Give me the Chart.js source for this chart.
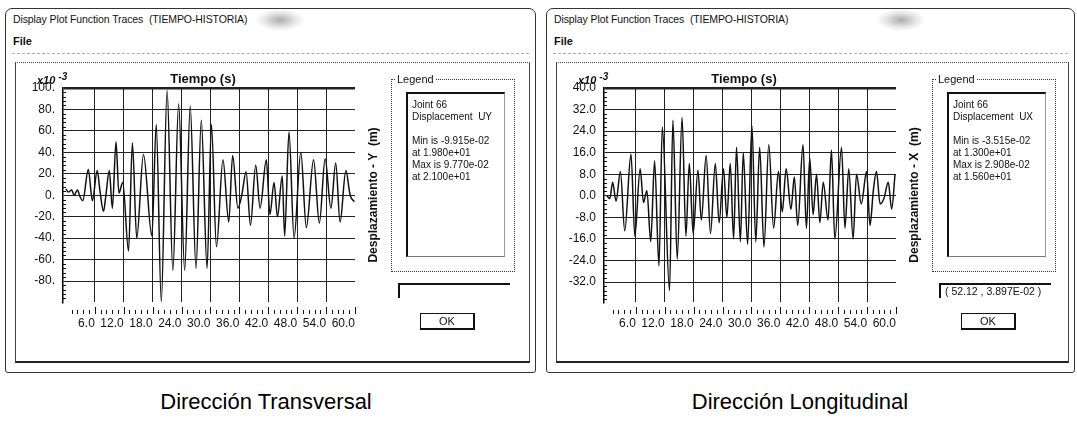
<!DOCTYPE html>
<html>
<head>
<meta charset="utf-8">
<title>Display Plot Function Traces</title>
<script src="https://cdn.jsdelivr.net/npm/chart.js@4.4.1/dist/chart.umd.min.js"></script>
<style>
    body {
        margin: 0;
        width: 1077px;
        height: 423px;
        background: #fff;
        position: relative;
        overflow: hidden;
        font-family: 'Liberation Sans', Arial, sans-serif;
        color: #111;
    }
    .win {
        position: absolute;
        top: 8px;
        height: 365px;
        border: 1px solid #333;
        border-radius: 7px 7px 3px 3px;
        box-sizing: border-box;
    }
    .win .cap   { position: absolute; left: 7px; top: 4px; font-size: 10.5px; letter-spacing: -0.1px; white-space: nowrap; }
    .win .smudge {
        position: absolute; top: 0; width: 48px; height: 22px;
        background: radial-gradient(ellipse at center, rgba(90,90,90,0.5) 0%, rgba(140,140,140,0.22) 45%, rgba(255,255,255,0) 72%);
    }
    .win .menu  { position: absolute; left: 7px; top: 26px; font-size: 11px; font-weight: bold; }
    .win .menubar { position: absolute; left: 6px; right: 6px; top: 44px; border-top: 1px dashed #aaa; }
    .win .panel {
        position: absolute; left: 9px; top: 53px; width: 515px; height: 301px;
        box-sizing: border-box;
        border: 1px solid #444; border-top: 1px dotted #555; border-bottom: 2px solid #222;
    }
    .win canvas { position: absolute; left: 9px; top: 56px; }
    .win .mult  { position: absolute; left: 31px; top: 62px; font-size: 11px; font-weight: bold; font-style: italic; white-space: nowrap; }
    .win .mult sup { font-size: 10px; margin-left: 3px; vertical-align: 4px; }
    .win .xtitle {
        position: absolute; left: 197px; top: 62px; transform: translateX(-50%);
        font-size: 13px; font-weight: bold; white-space: nowrap;
    }
    .win .ytitle {
        position: absolute; left: 367px; top: 186px;
        transform: translate(-50%, -50%) rotate(-90deg);
        font-size: 12px; font-weight: bold; white-space: nowrap;
    }
    .win .legend {
        position: absolute; left: 385px; top: 70px; width: 124px; height: 193px;
        box-sizing: border-box; border: 1px dotted #333;
    }
    .win .legend-label {
        position: absolute; left: 389px; top: 63px; padding: 0 2px;
        background: #fff; font-size: 11px; line-height: 14px;
    }
    .win .legend-body {
        position: absolute; left: 400px; top: 83px; width: 99px; height: 165px;
        box-sizing: border-box;
        border-top: 2px solid #111; border-left: 2px solid #111;
        border-right: 1px solid #999; border-bottom: 1px solid #777;
    }
    .win .legend-text {
        position: absolute; left: 406px; top: 90px;
        font-size: 10px; line-height: 12px; white-space: pre;
    }
    .win .readout {
        position: absolute; left: 392px; top: 274px; width: 112px; height: 15px;
        box-sizing: border-box; border-top: 2px solid #111; border-left: 2px solid #111;
        font-size: 10.5px; line-height: 13px; padding-left: 4px; white-space: nowrap;
    }
    .win .ok {
        position: absolute; left: 414px; top: 304px; width: 55px; height: 17px;
        box-sizing: border-box; border: 1px solid #111; border-right-width: 2px; border-bottom-width: 2px;
        font-size: 11px; line-height: 15px; text-align: center;
    }
    .caption {
        position: absolute; top: 389px; transform: translateX(-50%);
        font-size: 22px; white-space: nowrap; color: #000;
    }
</style>
</head>
<body>

<div class="win" style="left:5px;width:531px">
    <div class="cap">Display Plot Function Traces&nbsp; (TIEMPO-HISTORIA)</div>
    <div class="smudge" style="left:250px"></div>
    <div class="menu">File</div>
    <div class="menubar"></div>
    <div class="panel"></div>
    <canvas id="chartUY" width="355" height="270"></canvas>
    <div class="mult">x10<sup>-3</sup></div>
    <div class="xtitle">Tiempo (s)</div>
    <div class="ytitle">Desplazamiento - Y&nbsp; (m)</div>
    <div class="legend"></div>
    <div class="legend-label">Legend</div>
    <div class="legend-body"></div>
    <div class="legend-text" id="legendUY"></div>
    <div class="readout"></div>
    <div class="ok">OK</div>
</div>

<div class="win" style="left:546px;width:529px">
    <div class="cap">Display Plot Function Traces&nbsp; (TIEMPO-HISTORIA)</div>
    <div class="smudge" style="left:330px"></div>
    <div class="menu">File</div>
    <div class="menubar"></div>
    <div class="panel" style="width:513px"></div>
    <canvas id="chartUX" width="355" height="270"></canvas>
    <div class="mult">x10<sup>-3</sup></div>
    <div class="xtitle">Tiempo (s)</div>
    <div class="ytitle">Desplazamiento - X&nbsp; (m)</div>
    <div class="legend"></div>
    <div class="legend-label">Legend</div>
    <div class="legend-body"></div>
    <div class="legend-text" id="legendUX"></div>
    <div class="readout">( 52.12 , 3.897E-02 )</div>
    <div class="ok">OK</div>
</div>

<div class="caption" style="left:266px">Dirección Transversal</div>
<div class="caption" style="left:800px">Dirección Longitudinal</div>

<script>
// ---- time-history data, displacement in x10^-3 m ----

// Joint 66, UY (transverse)
const TIME_UY = [0, 0.5, 1.2, 1.7, 2.4, 2.9, 3.5, 4.65, 5.5, 6.5, 7.1, 7.8, 8.3, 9.0, 9.65,
    10.4, 11.0, 11.8, 13.0, 13.8, 14.7, 16.1, 17.85, 18.75, 19.8, 21.0, 22.2, 23.4, 24.65,
    25.8, 27.0, 28.1, 29.3, 30.2, 31.25, 32.6, 33.8, 34.6, 35.7, 36.5, 37.4, 38.3, 39.4,
    40.3, 41.6, 42.35, 43.2, 43.9, 44.9, 45.4, 46.3, 47.35, 48.75, 49.9, 51.4, 52.6, 53.8,
    55.0, 56.0, 56.9, 58.1, 59.0, 59.85];
const DISP_UY = [6, 3, 5, 0, 5, -1, -5, 24, -5, 23, 3, -15, 0, 23, -12,
    50, 2, 12, -52, 49, -40, 38, -38, 66, -99.15, 97.7, -70, 85, -70,
    83, -68, 70, -68, 66, -48, 33, -25, 37, -12, 0, 22, -28, 28,
    -12, 33, -18, 12, -20, 18, -38, 59, -40, 40, -30, 33, -26, 34,
    -12, 30, -25, 23, 0, -6];

// Joint 66, UX (longitudinal)
const TIME_UX = [0, 0.6, 1.2, 1.9, 2.8, 3.7, 5.0, 5.8, 6.9, 7.6, 8.3, 9.1, 9.9, 10.8, 11.5,
    13.0, 13.7, 14.6, 15.6, 16.4, 17.1, 17.9, 18.9, 19.6, 20.6, 21.5, 22.5, 23.3, 24.2,
    24.9, 25.6, 26.3, 26.9, 27.7, 28.3, 29.2, 30.1, 30.9, 31.7, 32.6, 33.6, 34.6, 35.6,
    36.4, 37.2, 38.2, 38.9, 39.6, 40.7, 41.4, 42.1, 42.8, 43.5, 44.2, 44.9, 45.9, 46.6,
    47.3, 48.7, 49.4, 50.2, 51.1, 51.8, 52.8, 53.9, 54.6, 55.3, 55.95, 56.7, 57.5, 58.4,
    59.1, 59.8];
const DISP_UX = [0, -1, 5, -2, 9, -13, 15.5, -15, 10, -2.5, 2, -17, 13, -26, 25.5,
    -35.15, 28, -23.5, 29.08, -15, 12, -14, 9.5, -9, 15, -14, 12, -10, 10,
    -8, 12, -16, 18, -17, 16, -18, 26, -17, 18, -19, 19, -12, 9,
    -6, 10, -5, 7, -11, 19, -12, 14, -7, 8, -10, 5, -9, 17,
    -16, 18, -12, 10, -16, 8, -3, 9, -11, 2, 9, -3, -1, 5,
    -5, 8];

// axis ticks
const X_TICKS      = [6, 12, 18, 24, 30, 36, 42, 48, 54, 60];
const Y_TICKS_UY   = [100, 80, 60, 40, 20, 0, -20, -40, -60, -80];
const Y_LABELS_UY  = ['100.', '80.', '60.', '40.', '20.', '0.', '-20.', '-40.', '-60.', '-80.'];
const Y_TICKS_UX   = [40, 32, 24, 16, 8, 0, -8, -16, -24, -32];
const Y_LABELS_UX  = ['40.0', '32.0', '24.0', '16.0', '8.0', '0.0', '-8.0', '-16.0', '-24.0', '-32.0'];

document.addEventListener('DOMContentLoaded', function () {

    const tickFont = { family: "'Liberation Sans Narrow', 'Liberation Sans', Arial, sans-serif", size: 12 };
    const ink      = '#111';

    // SAP style exponent: 9.915e-2 -> 9.915e-02
    function sapExp(v) {
        return v.toExponential(3).replace(/e([+-])(\d)$/, (m, s, d) => 'e' + s + '0' + d);
    }

    function legendText(label, times, values) {
        const lo = Math.min(...values);
        const hi = Math.max(...values);
        const tLo = times[values.indexOf(lo)];
        const tHi = times[values.indexOf(hi)];
        return [
            'Joint 66',
            'Displacement  ' + label,
            '',
            'Min is ' + sapExp(lo / 1000),
            'at ' + sapExp(tLo),
            'Max is ' + sapExp(hi / 1000),
            'at ' + sapExp(tHi),
        ].join('\n');
    }

    // small ruler ticks under the plot and along the left spine
    const rulerPlugin = {
        id: 'ruler',
        afterDraw(chart, args, opts) {
            const { ctx, chartArea: a, scales: { x, y } } = chart;
            ctx.save();
            ctx.strokeStyle = ink;
            ctx.lineWidth = 1;
            ctx.beginPath();
            for (let i = 1; i * opts.xStep <= x.max + 1e-6; i++) {
                const px = Math.round(x.getPixelForValue(i * opts.xStep)) + 0.5;
                ctx.moveTo(px, a.bottom + (i % 5 === 0 ? 5 : 8));
                ctx.lineTo(px, a.bottom + 12);
            }
            for (let i = 1; y.max - i * opts.yStep >= y.min; i++) {
                const py = Math.round(y.getPixelForValue(y.max - i * opts.yStep)) + 0.5;
                ctx.moveTo(a.left, py);
                ctx.lineTo(a.left + (i % 5 === 0 ? 0 : 3), py);
            }
            ctx.stroke();
            ctx.restore();
        }
    };

    function traceChart(id, times, values, yTicks, yLabels, yMin, yMax) {
        const ctx = document.getElementById(id);
        return new Chart(ctx, {
            type: 'line',
            data: {
                datasets: [{
                    data: times.map((t, i) => ({ x: t, y: values[i] })),
                    borderColor: ink,
                    borderWidth: 1.5,
                    pointRadius: 0,
                    cubicInterpolationMode: 'monotone',
                    clip: 2,
                }]
            },
            options: {
                responsive: false,
                animation: false,
                layout: { padding: { top: 23, right: 15, left: 0, bottom: 0 } },
                plugins: {
                    legend: { display: false },
                    tooltip: { enabled: false },
                    ruler: { xStep: 1.2, yStep: (yTicks[0] - yTicks[1]) / 5 },
                },
                scales: {
                    x: {
                        type: 'linear',
                        min: -0.6,
                        max: 60,
                        afterBuildTicks: s => { s.ticks = X_TICKS.map(v => ({ value: v })); },
                        afterFit: s => { s.height = 33; },
                        border: { display: false },
                        grid: {
                            drawTicks: false,
                            color: c => (c.tick && c.tick.value < 60) ? '#222' : 'rgba(0,0,0,0)',
                        },
                        ticks: {
                            align: 'end',
                            autoSkip: false,
                            maxRotation: 0,
                            padding: 14,
                            color: ink,
                            font: tickFont,
                            callback: v => v.toFixed(1),
                        }
                    },
                    y: {
                        min: yMin,
                        max: yMax,
                        afterBuildTicks: s => { s.ticks = yTicks.map(v => ({ value: v })); },
                        afterFit: s => { s.width = 48; },
                        border: { color: '#000', width: 1.5 },
                        grid: {
                            drawTicks: false,
                            color: '#222',
                            lineWidth: c => (c.tick && c.tick.value === yMax) ? 2.5 : 1,
                        },
                        ticks: {
                            padding: 8,
                            color: ink,
                            font: tickFont,
                            callback: v => yLabels[yTicks.indexOf(v)],
                        }
                    }
                }
            },
            plugins: [rulerPlugin]
        });
    }

    // ── 1. Transverse trace (UY) ──
    traceChart('chartUY', TIME_UY, DISP_UY, Y_TICKS_UY, Y_LABELS_UY, -99.5, 100);
    document.getElementById('legendUY').textContent = legendText('UY', TIME_UY, DISP_UY);

    // ── 2. Longitudinal trace (UX) ──
    traceChart('chartUX', TIME_UX, DISP_UX, Y_TICKS_UX, Y_LABELS_UX, -39.4, 40);
    document.getElementById('legendUX').textContent = legendText('UX', TIME_UX, DISP_UX);

});
</script>
</body>
</html>
